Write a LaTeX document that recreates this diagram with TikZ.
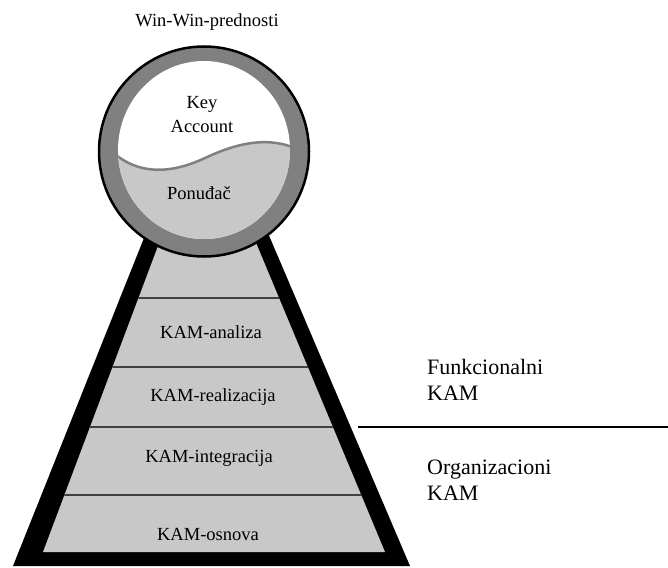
\documentclass[tikz,border=0pt]{standalone}
\usepackage{fontspec}
\usepackage{xcolor}
\usepackage{tikz}
\setmainfont{LiberationSerif}[Extension=.ttf,UprightFont=*-Regular,BoldFont=*-Bold]

\definecolor{layergray}{RGB}{200,200,200}
\definecolor{ringgray}{RGB}{128,128,128}

\tikzset{
	kamtext/.style={font=\fontsize{18.5}{24}\selectfont,align=center,inner sep=0pt},
	sidetext/.style={font=\fontsize{22}{26}\selectfont,align=left,anchor=west,inner sep=0pt},
	layerline/.style={draw=black!75,line width=1.2pt}
}

\begin{document}
\begin{tikzpicture}[x=1pt,y=-1pt]
	\useasboundingbox (0,0) rectangle (668,567);
	
	\fill[black] (13,566) -- (410,566) -- (264.5,225) -- (149.2,225) -- cycle;
	\begin{scope}
		\clip (43,552) -- (385,552) -- (248.6,225) -- (165.9,225) -- cycle;
		\fill[layergray] (0,200) rectangle (668,567);
		\draw[layerline] (0,298) -- (668,298);
		\draw[layerline] (0,367) -- (668,367);
		\draw[layerline] (0,427) -- (668,427);
		\draw[layerline] (0,495) -- (668,495);
	\end{scope}
	
	\filldraw[fill=ringgray,draw=black,line width=2.5pt] (204,151.5) circle[radius=105pt];
	\begin{scope}
		\clip (204,150) ellipse[x radius=86pt,y radius=89pt];
		\fill[white] (100,40) rectangle (310,260);
		\fill[layergray] (110,150) .. controls (140,178) and (175,172) .. (205,158)
			.. controls (235,144) and (265,136) .. (295,148) -- (295,260) -- (110,260) -- cycle;
		\draw[ringgray,line width=2.5pt] (110,150) .. controls (140,178) and (175,172) .. (205,158)
			.. controls (235,144) and (265,136) .. (295,148);
	\end{scope}
	
	\node[kamtext] (win) at (207,22) {Win-Win-prednosti};
	\node[kamtext] (key) at (202,115) {Key\\Account};
	\node[kamtext] (ponudjac) at (199,193) {Ponuđač};
	
	\node[kamtext] (analiza) at (211,332) {KAM-analiza};
	\node[kamtext] (realizacija) at (213,397) {KAM-realizacija};
	\node[kamtext] (integracija) at (209,458) {KAM-integracija};
	\node[kamtext] (osnova) at (208,534) {KAM-osnova};
	
	\coordinate (sepL) at (358,427);
	\coordinate (sepR) at (668,427);
	\draw[line width=2.5pt] (sepL) -- (sepR);
	\node[sidetext] (funkcionalni) at (427,380) {Funkcionalni\\KAM};
	\node[sidetext] (organizacioni) at (427,480) {Organizacioni\\KAM};
\end{tikzpicture}
\end{document}
